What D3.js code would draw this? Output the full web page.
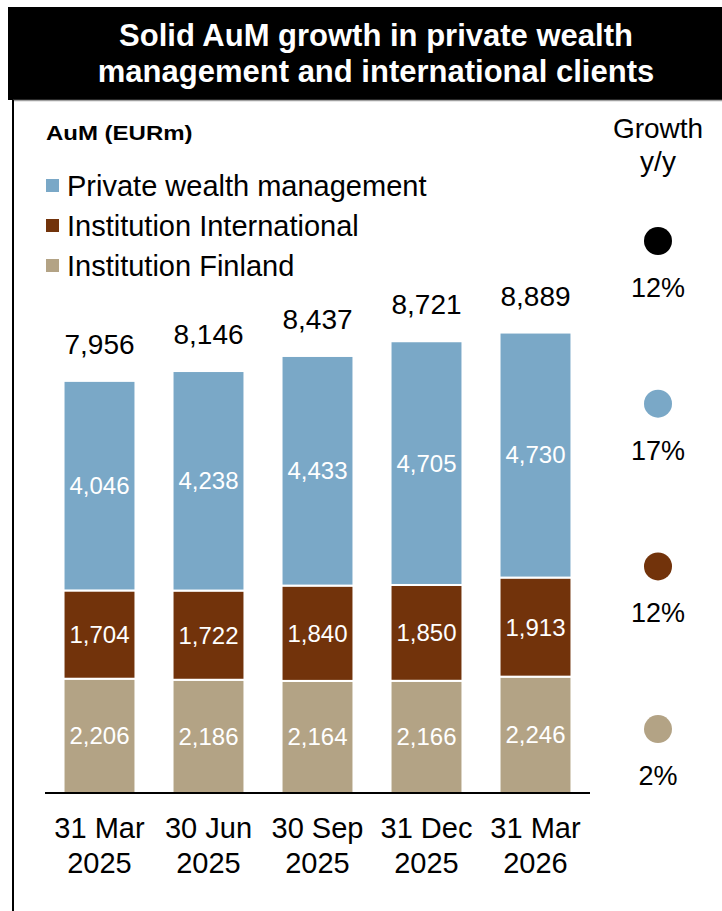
<!DOCTYPE html>
<html>
<head>
<meta charset="utf-8">
<script src="https://cdn.jsdelivr.net/npm/d3@7"></script>
<style>
  body { margin: 0; background: #fff; }
  svg text { font-family: "Liberation Sans", Arial, sans-serif; }
</style>
</head>
<body>
<div id="chart"></div>
<script>
// data
var dates = ["31 Mar 2025", "30 Jun 2025", "30 Sep 2025", "31 Dec 2025", "31 Mar 2026"];
var finland = [2206, 2186, 2164, 2166, 2246];
var international = [1704, 1722, 1840, 1850, 1913];
var privateWealth = [4046, 4238, 4433, 4705, 4730];
var totals = [7956, 8146, 8437, 8721, 8889];
var seriesNames = ["Private wealth management", "Institution International", "Institution Finland"];
var growthLabels = ["12%", "17%", "12%", "2%"];

var W = 722, H = 911;
var colors = {"Institution Finland": "#b3a385", "Institution International": "#72330b", "Private wealth management": "#7aa8c7"};

var svg = d3.select("#chart").append("svg")
    .attr("width", W)
    .attr("height", H);

// title box
svg.append("rect")
    .attr("x", 8).attr("y", 7)
    .attr("width", W - 8).attr("height", 93)
    .attr("fill", "#000");

svg.append("text")
    .attr("x", 376).attr("y", 46)
    .attr("text-anchor", "middle")
    .attr("fill", "#fff")
    .attr("font-size", 31).attr("font-weight", "bold")
    .text("Solid AuM growth in private wealth");
svg.append("text")
    .attr("x", 376).attr("y", 82)
    .attr("text-anchor", "middle")
    .attr("fill", "#fff")
    .attr("font-size", 31).attr("font-weight", "bold")
    .text("management and international clients");

// frame lines
svg.append("line")
    .attr("x1", 13).attr("x2", W).attr("y1", 100.5).attr("y2", 100.5)
    .attr("stroke", "#a0a0a0").attr("stroke-width", 1.5);
svg.append("line")
    .attr("x1", 13).attr("x2", 13).attr("y1", 100).attr("y2", H)
    .attr("stroke", "#000").attr("stroke-width", 2);

svg.append("text")
    .attr("transform", "translate(46,140) scale(1.2,1)")
    .attr("font-size", 20).attr("font-weight", "bold")
    .text("AuM (EURm)");

// legend
var legend = svg.append("g")
  .selectAll("g")
  .data(seriesNames)
  .enter().append("g")
    .attr("transform", function(d, i) { return "translate(46," + (179 + i * 40) + ")"; });

legend.append("rect")
    .attr("width", 13).attr("height", 13)
    .attr("fill", function(d) { return colors[d]; });
legend.append("text")
    .attr("x", 21).attr("y", 17)
    .attr("font-size", 29)
    .text(function(d) { return d; });

// scales
var baseY = 793;

var x = d3.scaleBand()
    .domain(dates)
    .range([45, 590])
    .paddingInner(0.34)
    .paddingOuter(0.17);

var y = d3.scaleLinear()
    .domain([0, 9000])
    .range([baseY, baseY - 9000 * 0.0518]);

var rows = dates.map(function(d, i) {
  return {date: d, "Institution Finland": finland[i], "Institution International": international[i],
          "Private wealth management": privateWealth[i], total: totals[i]};
});
var keys = ["Institution Finland", "Institution International", "Private wealth management"];
var stacked = d3.stack().keys(keys)(rows);

var layers = svg.append("g")
  .selectAll("g")
  .data(stacked)
  .enter().append("g")
    .attr("fill", function(d) { return colors[d.key]; });

layers.selectAll("rect")
  .data(function(d) { return d; })
  .enter().append("rect")
    .attr("x", function(d) { return x(d.data.date); })
    .attr("y", function(d) { return y(d[1]); })
    .attr("width", x.bandwidth())
    .attr("height", function(d) { return y(d[0]) - y(d[1]); })
    .attr("stroke", "#fff")
    .attr("stroke-width", 2);

layers.selectAll("text")
  .data(function(d) { return d; })
  .enter().append("text")
    .attr("x", function(d) { return x(d.data.date) + x.bandwidth() / 2; })
    .attr("y", function(d) { return (y(d[0]) + y(d[1])) / 2; })
    .attr("dy", "0.35em")
    .attr("text-anchor", "middle")
    .attr("fill", "#fff")
    .attr("font-size", 24)
    .text(function(d) { return d3.format(",")(d[1] - d[0]); });

// totals
svg.append("g")
  .selectAll("text")
  .data(rows)
  .enter().append("text")
    .attr("x", function(d) { return x(d.date) + x.bandwidth() / 2; })
    .attr("y", function(d) { return y(d.total) - 27; })
    .attr("text-anchor", "middle")
    .attr("font-size", 28)
    .text(function(d) { return d3.format(",")(d.total); });

// baseline
svg.append("line")
    .attr("x1", 45).attr("x2", 590)
    .attr("y1", baseY).attr("y2", baseY)
    .attr("stroke", "#000").attr("stroke-width", 2);

// x labels
var xl = svg.append("g")
  .selectAll("text")
  .data(dates)
  .enter().append("text")
    .attr("x", function(d) { return x(d) + x.bandwidth() / 2; })
    .attr("text-anchor", "middle")
    .attr("font-size", 29);
xl.append("tspan")
    .attr("x", function(d) { return x(d) + x.bandwidth() / 2; })
    .attr("y", 838)
    .text(function(d) { return d.split(" ").slice(0, 2).join(" "); });
xl.append("tspan")
    .attr("x", function(d) { return x(d) + x.bandwidth() / 2; })
    .attr("y", 873)
    .text(function(d) { return d.split(" ")[2]; });

// growth column
var gx = 658;
svg.append("text")
    .attr("x", gx).attr("y", 138)
    .attr("text-anchor", "middle").attr("font-size", 28)
    .text("Growth");
svg.append("text")
    .attr("x", gx).attr("y", 171)
    .attr("text-anchor", "middle").attr("font-size", 28)
    .text("y/y");

var growthColors = ["#000", colors["Private wealth management"], colors["Institution International"], colors["Institution Finland"]];
var growth = svg.append("g")
  .selectAll("g")
  .data(growthLabels)
  .enter().append("g")
    .attr("transform", function(d, i) { return "translate(" + gx + "," + (241 + i * 162.7) + ")"; });

growth.append("circle")
    .attr("r", 14)
    .attr("fill", function(d, i) { return growthColors[i]; });
growth.append("text")
    .attr("y", 56)
    .attr("text-anchor", "middle")
    .attr("font-size", 27)
    .text(function(d) { return d; });
</script>
</body>
</html>
